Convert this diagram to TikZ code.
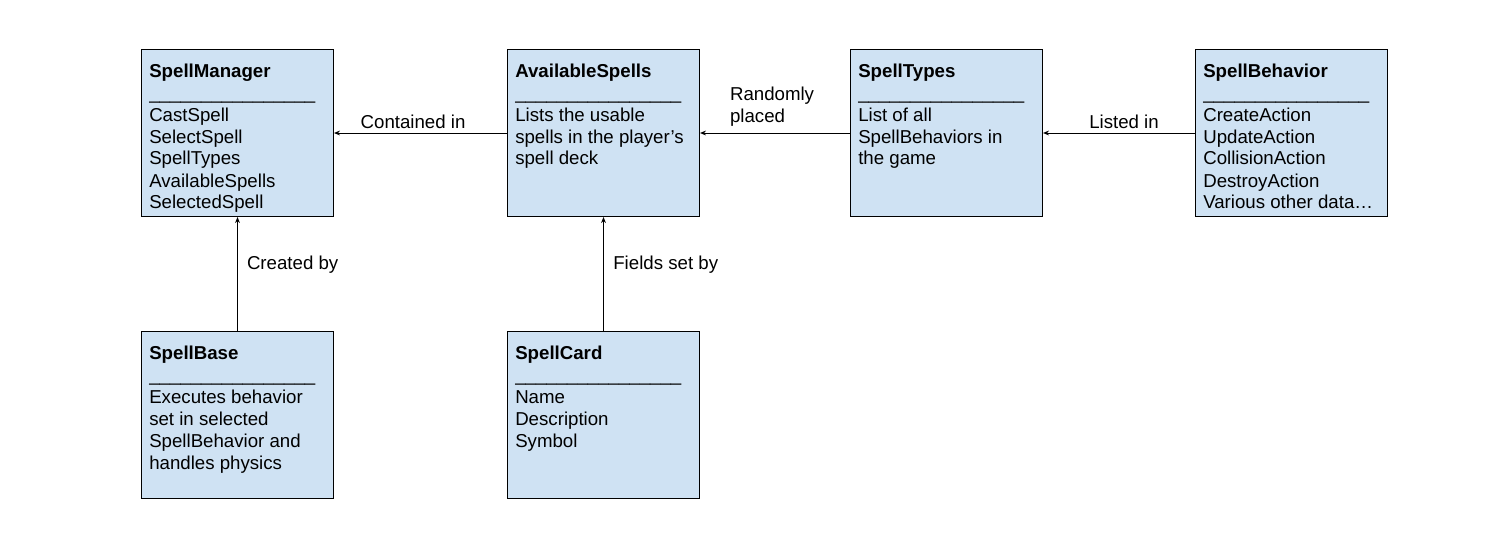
\documentclass[tikz,border=0pt]{standalone}
\usepackage{fontspec}
\setmainfont{Liberation Sans}
\usetikzlibrary{arrows.meta}
\definecolor{boxblue}{HTML}{CFE2F3}
\newcommand\usc{\_\_\_\_\_\_\_\_\_\_\_\_\_\_\_\_}
\begin{document}
\begin{tikzpicture}[x=0.75pt,y=-0.75pt,
  every node/.style={font=\fontsize{14}{16.5}\selectfont},
  cls/.style={draw=black, fill=boxblue, line width=0.75pt, inner sep=0pt,
    minimum width=144pt, minimum height=125.25pt, anchor=north west},
  clstext/.style={anchor=base west, inner sep=0pt},
  conn/.style={draw=black, line width=0.75pt, -{Stealth[length=4.5pt,width=3.6pt]}},
  lbl/.style={inner sep=0pt}]
\useasboundingbox (0,0) rectangle (1490,539);
% boxes
\node[cls] (sm) at (141,49) {};
\node[cls] (as) at (507,49) {};
\node[cls] (st) at (850,49) {};
\node[cls] (sb) at (1195,49) {};
\node[cls] (base) at (141,331) {};
\node[cls] (card) at (507,331) {};
% box texts
\node[clstext] (smt) at ([shift={(8,28)}]sm.north west)
  {\parbox[t]{180pt}{\textbf{SpellManager}\\\usc\\CastSpell\\SelectSpell\\SpellTypes\\AvailableSpells\\SelectedSpell}};
\node[clstext] (ast) at ([shift={(8,28)}]as.north west)
  {\parbox[t]{180pt}{\textbf{AvailableSpells}\\\usc\\Lists the usable\\spells in the player’s\\spell deck}};
\node[clstext] (stt) at ([shift={(8,28)}]st.north west)
  {\parbox[t]{180pt}{\textbf{SpellTypes}\\\usc\\List of all\\SpellBehaviors in\\the game}};
\node[clstext] (sbt) at ([shift={(8,28)}]sb.north west)
  {\parbox[t]{180pt}{\textbf{SpellBehavior}\\\usc\\CreateAction\\UpdateAction\\CollisionAction\\DestroyAction\\Various other data…}};
\node[clstext] (baset) at ([shift={(8,28)}]base.north west)
  {\parbox[t]{180pt}{\textbf{SpellBase}\\\usc\\Executes behavior\\set in selected\\SpellBehavior and\\handles physics}};
\node[clstext] (cardt) at ([shift={(8,28)}]card.north west)
  {\parbox[t]{180pt}{\textbf{SpellCard}\\\usc\\Name\\Description\\Symbol}};
% connectors
\draw[conn] (as.west) -- node[lbl, pos=0.543, anchor=base, yshift=3.4pt] (l1) {Contained in} (sm.east);
\draw[conn] (st.west) -- node[lbl, pos=0.803, anchor=base west, yshift=8.1pt] (l2) {\parbox[b]{100pt}{Randomly\\placed}} (as.east);
\draw[conn] (sb.west) -- node[lbl, pos=0.467, anchor=base, yshift=3.4pt] (l3) {Listed in} (st.east);
\draw[conn] (base.north) -- node[lbl, pos=0.539, anchor=base west, xshift=6.75pt] (l4) {Created by} (sm.south);
\draw[conn] (card.north) -- node[lbl, pos=0.539, anchor=base west, xshift=7pt] (l5) {Fields set by} (as.south);
\end{tikzpicture}
\end{document}
